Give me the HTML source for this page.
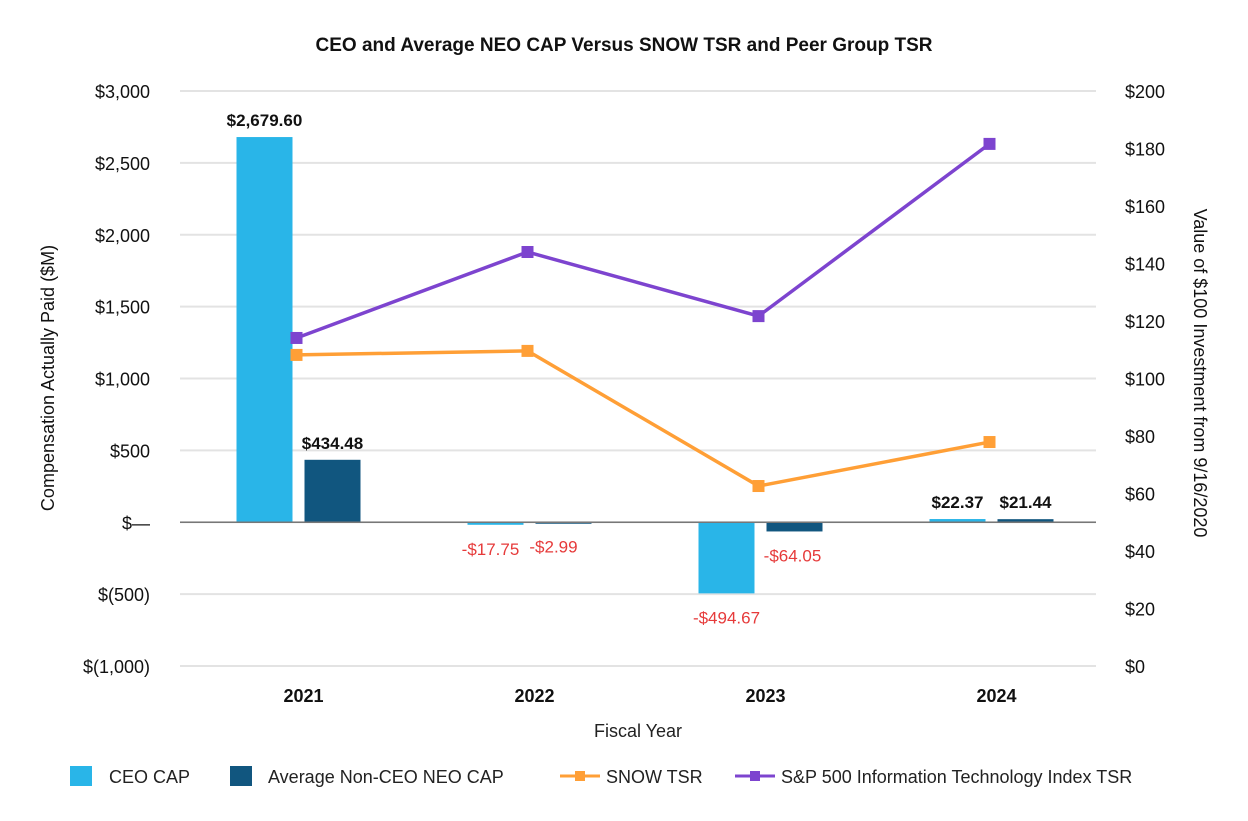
<!DOCTYPE html>
<html><head><meta charset="utf-8">
<style>
body{margin:0;background:#fff;font-family:"Liberation Sans",sans-serif;}
svg text{font-family:"Liberation Sans",sans-serif;}
</style></head>
<body>
<svg id="chart" width="1248" height="816" xmlns="http://www.w3.org/2000/svg">
<text x="624" y="51" text-anchor="middle" font-size="19" font-weight="bold" fill="#111">CEO and Average NEO CAP Versus SNOW TSR and Peer  Group TSR</text>
<g id="grid"></g>
<g id="yleft"></g>
<g id="yright"></g>
<g id="bars"></g>
<g id="lines"></g>
<g id="xaxis"></g>
<text transform="translate(54,378) rotate(-90)" text-anchor="middle" font-size="18" fill="#111">Compensation Actually Paid ($M)</text>
<text transform="translate(1194,373) rotate(90)" text-anchor="middle" font-size="18" fill="#111">Value of $100 Investment from 9/16/2020</text>
<text x="638" y="737" text-anchor="middle" font-size="18" fill="#222">Fiscal Year</text>
<g>
 <g><rect x="70" y="766" width="22" height="20" fill="#29b5e8"/><text x="109" y="783" font-size="18" fill="#222">CEO CAP</text></g>
 <g><rect x="230" y="766" width="22" height="20" fill="#11567f"/><text x="268" y="783" font-size="18" fill="#222">Average Non-CEO NEO CAP</text></g>
 <g><line x1="560" y1="776" x2="600" y2="776" stroke="#ff9f36" stroke-width="3"/><rect x="575" y="771" width="10" height="10" fill="#ff9f36"/><text x="606" y="783" font-size="18" fill="#222">SNOW TSR</text></g>
 <g><line x1="735" y1="776" x2="775" y2="776" stroke="#7d44cf" stroke-width="3"/><rect x="750" y="771" width="10" height="10" fill="#7d44cf"/><text x="781" y="783" font-size="18" fill="#222">S&amp;P 500 Information Technology Index TSR</text></g>
</g>
</svg>
<script>
const years=["2021","2022","2023","2024"];
const ceoCap=[2679.60,-17.75,-494.67,22.37];
const neoCap=[434.48,-2.99,-64.05,21.44];
const snowTsr=[108.2,109.6,62.6,77.9];
const spTsr=[114.1,144.0,121.7,181.6];
const leftTicks=[-1000,-500,0,500,1000,1500,2000,2500,3000];
const leftLabels=["$(1,000)","$(500)","$\u2014","$500","$1,000","$1,500","$2,000","$2,500","$3,000"];
const rightTicks=[0,20,40,60,80,100,120,140,160,180,200];

const NS="http://www.w3.org/2000/svg";
const plotTop=91,plotBot=666,plotLeft=180,plotRight=1096;
const yL=v=>plotTop+(3000-v)*(plotBot-plotTop)/4000;
const yR=v=>plotBot-v*(plotBot-plotTop)/200;
const band=(plotRight-plotLeft+8)/4;
const xC=i=>plotLeft+8+band*(i+0.5);
function mk(tag,attrs,parent){const e=document.createElementNS(NS,tag);for(const k in attrs)e.setAttribute(k,attrs[k]);parent.appendChild(e);return e;}
const grid=document.getElementById('grid'),yl=document.getElementById('yleft'),yr=document.getElementById('yright');
leftTicks.forEach((t,i)=>{
  const g=mk('line',{x1:plotLeft,x2:plotRight,y1:yL(t),y2:yL(t),stroke:'#e3e3e3','stroke-width':2},grid);
  
  
  const tx=mk('text',{x:150,y:yL(t)+7,'text-anchor':'end','font-size':18,fill:'#111'},yl);
  tx.textContent=leftLabels[i];
  
  
});
rightTicks.forEach(t=>{
  const tx=mk('text',{x:1125,y:yR(t)+7,'font-size':18,fill:'#111'},yr);
  tx.textContent='$'+t;
  
  
});
const bars=document.getElementById('bars');
const fmt=v=>(v<0?'-':'')+'$'+Math.abs(v).toLocaleString('en-US',{minimumFractionDigits:2,maximumFractionDigits:2});
function bar(v,cx,color,name,lblDx){
  const y0=yL(0),y1=yL(v);
  const r=mk('rect',{x:cx-28,y:Math.min(y0,y1),width:56,height:Math.max(1.5,Math.abs(y1-y0)),fill:color},bars);
  
  
  const neg=v<0;
  const t=mk('text',{x:cx+lblDx,y:neg?Math.max(y1,y0)+(Math.abs(y1-y0)>40?30:30):y1-11,'text-anchor':'middle','font-size':17,'font-weight':neg?'normal':'bold',fill:neg?'#e63a3a':'#111'},bars);
  t.textContent=fmt(v);
  
  
}
years.forEach((y,i)=>{
  const c=xC(i);
  bar(ceoCap[i],c-39,'#29b5e8','bar-ceo-'+y,i==1?-5:0);
  bar(neoCap[i],c+29,'#11567f','bar-neo-'+y,i==1?-10:(i==2?-2:0));
});
const ax=mk('line',{x1:plotLeft,x2:plotRight,y1:yL(0),y2:yL(0),stroke:'#777','stroke-width':1.5},bars);


const lines=document.getElementById('lines');
function series(vals,color,name){
  const pts=vals.map((v,i)=>[xC(i)-7,yR(v)]);
  const p=mk('polyline',{points:pts.map(p=>p.join(',')).join(' '),fill:'none',stroke:color,'stroke-width':3.5},lines);
  
  
  pts.forEach((q,i)=>{
    const m=mk('rect',{x:q[0]-6,y:q[1]-6,width:12,height:12,fill:color},lines);
    
    
  });
}
series(snowTsr,'#ff9f36','snow-tsr');
series(spTsr,'#7d44cf','sp500-it-tsr');
const xa=document.getElementById('xaxis');
years.forEach((y,i)=>{
  const t=mk('text',{x:xC(i),y:702,'text-anchor':'middle','font-size':18,'font-weight':'bold',fill:'#111'},xa);
  t.textContent=y;
  
  
});
</script>
</body></html>
